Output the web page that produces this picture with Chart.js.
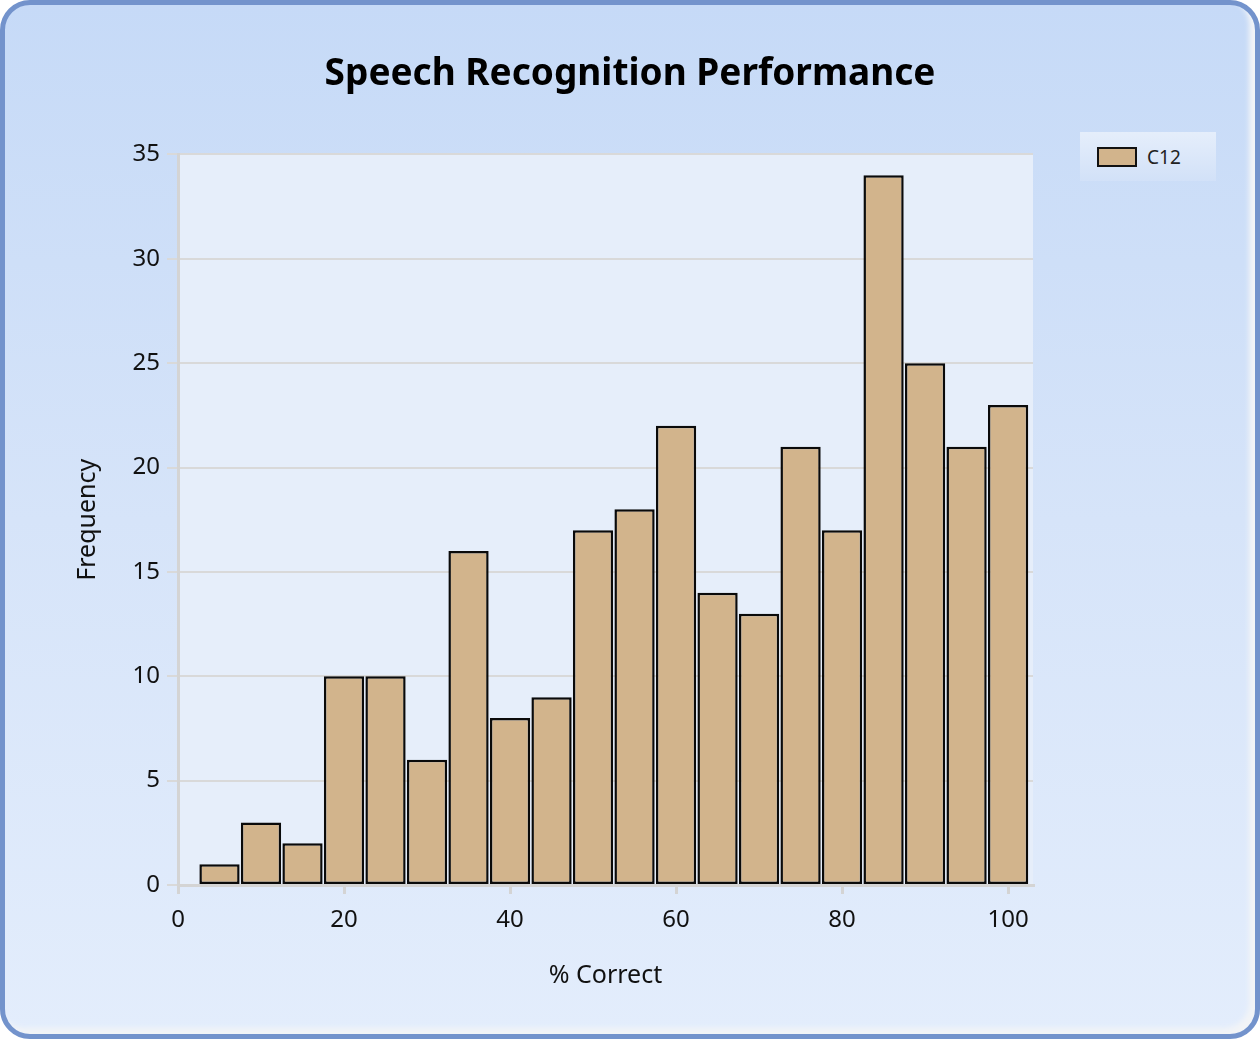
<!DOCTYPE html>
<html>
<head>
<meta charset="utf-8">
<script src="https://cdn.jsdelivr.net/npm/chart.js@4.4.0/dist/chart.umd.min.js"></script>
<style>
  html, body { margin: 0; padding: 0; background: #ffffff; }
  #frame {
    position: relative;
    width: 1260px; height: 1039px;
    box-sizing: border-box;
    border: 5px solid #7393cc;
    border-radius: 30px;
    background: linear-gradient(to bottom, #c6daf7 0%, #d6e4f9 50%, #e3edfc 100%);
    box-shadow: inset -6px -6px 5px #f2f4f7;
    overflow: hidden;
  }
  #myChart { position: absolute; left: -5px; top: -5px; }
  #legend {
    position: absolute; left: 1075px; top: 127px;
    width: 136px; height: 49px;
    background: linear-gradient(to bottom, #e5eefb, #d2e1f8);
    font-family: "Noto Sans", sans-serif; font-size: 19px; color: #222;
  }
  #legend .sw {
    position: absolute; left: 17px; top: 15px; width: 36px; height: 16px;
    border: 2px solid #111;
  }
  #legend .lbl { position: absolute; left: 67px; top: 12px; }
</style>
</head>
<body>
<div id="frame">
  <canvas id="myChart" width="1260" height="1039"></canvas>
  <div id="legend"><div class="sw"></div><div class="lbl"></div></div>
</div>
<script>
// histogram bins (% correct, bin centres) and counts
var binCenters = [5, 10, 15, 20, 25, 30, 35, 40, 45, 50, 55, 60, 65, 70, 75, 80, 85, 90, 95, 100];
var freqs = [1, 3, 2, 10, 10, 6, 16, 8, 9, 17, 18, 22, 14, 13, 21, 17, 34, 25, 21, 23];
var seriesName = "C12";
var xTicks = [0, 20, 40, 60, 80, 100];
var yTicks = [0, 5, 10, 15, 20, 25, 30, 35];

var barColor = "#d2b48c";

document.querySelector('#legend .sw').style.background = barColor;
document.querySelector('#legend .lbl').textContent = seriesName;

// plot area background
var plotBg = {
  id: 'plotBg',
  beforeDraw: function(chart) {
    var a = chart.chartArea, c = chart.ctx;
    c.save();
    c.fillStyle = '#e6eefa';
    c.fillRect(a.left, a.top, a.right - a.left, a.bottom - a.top);
    c.restore();
  }
};

var font = "'Noto Sans', sans-serif";
var ctx = document.getElementById("myChart");
var myChart = new Chart(ctx, {
  type: 'bar',
  data: {
    datasets: [{
      label: seriesName,
      data: binCenters.map(function(x, i) { return { x: x, y: freqs[i] }; }),
      backgroundColor: barColor,
      borderColor: '#0a0a0a',
      borderWidth: 2.5,
      borderSkipped: false,
      barPercentage: 1,
      categoryPercentage: 0.97
    }]
  },
  options: {
    responsive: false,
    animation: false,
    layout: { padding: { left: 0, right: 0, top: 0, bottom: 44 } },
    plugins: {
      legend: { display: false },
      tooltip: { enabled: false },
      title: {
        display: true,
        text: 'Speech Recognition Performance',
        color: '#000',
        font: { family: font, size: 37, weight: 'bold' },
        padding: { top: 52, bottom: 58 }
      }
    },
    scales: {
      x: {
        type: 'linear',
        min: 0, max: 103,
        offset: false,
        afterFit: function(s) { s.height = 110; },
        afterBuildTicks: function(s) { s.ticks = xTicks.map(function(v) { return { value: v }; }); },
        ticks: { color: '#111', font: { family: font, size: 24 }, padding: 12, maxRotation: 0 },
        grid: { offset: false, drawOnChartArea: false, drawTicks: true, tickLength: 9, color: '#d4d4d4', lineWidth: 3 },
        border: { color: '#d4d4d4', width: 3 },
        title: { display: true, text: '% Correct', color: '#111', font: { family: font, size: 25 }, padding: { top: 4, bottom: 4 } }
      },
      y: {
        min: 0, max: 35,
        afterFit: function(s) { s.width = 178; },
        afterBuildTicks: function(s) { s.ticks = yTicks.map(function(v) { return { value: v }; }); },
        ticks: { color: '#111', font: { family: font, size: 24 }, padding: 7 },
        grid: { color: '#d9d9d9', lineWidth: 2, tickLength: 11 },
        border: { color: '#d4d4d4', width: 3 },
        title: { display: true, text: 'Frequency', color: '#111', font: { family: font, size: 25 }, padding: { top: 73, bottom: 4 } }
      },
      // empty right-hand box: reserves the space the legend sits in
      yRight: {
        position: 'right',
        display: true,
        afterFit: function(s) { s.width = 227; },
        ticks: { display: false },
        grid: { display: false, drawTicks: false },
        border: { display: false }
      }
    }
  },
  plugins: [plotBg]
});
</script>
</body>
</html>
